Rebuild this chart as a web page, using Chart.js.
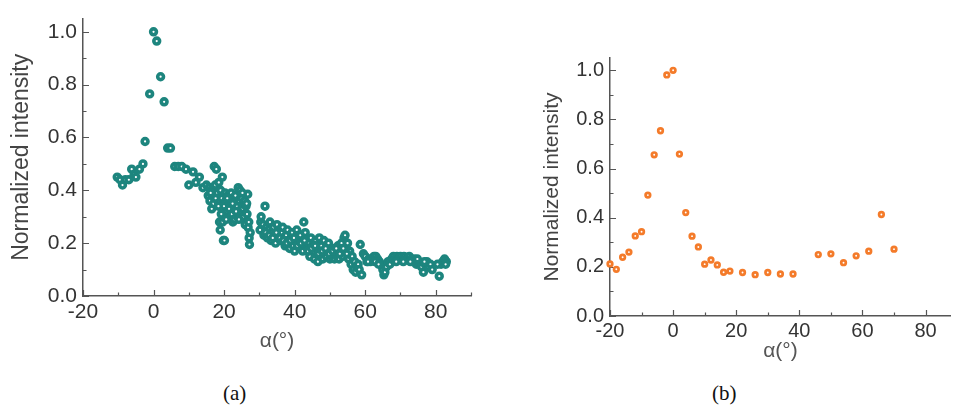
<!DOCTYPE html>
<html>
<head>
<meta charset="utf-8">
<script src="https://cdn.jsdelivr.net/npm/chart.js@4.4.1/dist/chart.umd.min.js"></script>
<style>
  html, body { margin: 0; padding: 0; background: #fff; }
  body { width: 955px; height: 406px; position: relative; overflow: hidden; }
  canvas { position: absolute; top: 0; }
  #chart_a { left: 0; }
  #chart_b { left: 540px; }
  .caption { position: absolute; top: 381px; font: 21px "Liberation Serif", "Times New Roman", serif; color: #111; }
</style>
</head>
<body>
<canvas id="chart_a" width="480" height="360"></canvas>
<canvas id="chart_b" width="420" height="372"></canvas>
<div class="caption" style="left:223px">(a)</div>
<div class="caption" style="left:712px">(b)</div>
<script>
// panel (a): alpha (deg), normalized intensity
const pointsA = [
  [-10.3, 0.45], [-9.5, 0.44], [-8.8, 0.42], [-8, 0.44], [-7, 0.44], [-6.2, 0.48], [-5.5, 0.46],
  [-5, 0.45], [-4, 0.48], [-3, 0.50], [-2.4, 0.585], [-1.1, 0.765], [0, 1.0], [0.9, 0.965],
  [2, 0.83], [3, 0.735], [4, 0.56], [4.8, 0.56], [6, 0.49], [7, 0.49], [8, 0.49], [9.2, 0.48],
  [10, 0.42], [11.2, 0.47], [12, 0.43], [13, 0.45], [14, 0.41], [15, 0.42],
  [15.5, 0.38], [15.8, 0.41], [16, 0.36], [16.3, 0.40], [16.5, 0.33], [16.8, 0.38], [17, 0.35],
  [17.2, 0.49], [17.5, 0.42], [17.8, 0.48], [18, 0.39], [18.2, 0.36], [18.5, 0.43], [18.7, 0.28],
  [18.9, 0.25], [19, 0.40], [19.3, 0.37], [19.5, 0.45], [19.6, 0.28], [19.8, 0.21], [20.1, 0.21],
  [20, 0.34], [20.3, 0.39], [20.5, 0.36], [20.8, 0.32], [21, 0.38], [21.2, 0.30], [21.5, 0.35],
  [21.8, 0.33], [22, 0.39], [22.2, 0.31], [22.5, 0.28], [22.8, 0.36], [23, 0.29], [23.2, 0.38],
  [23.5, 0.34], [23.8, 0.30], [24, 0.41], [24.3, 0.36], [24.5, 0.40], [24.8, 0.32], [25, 0.37],
  [25.3, 0.33], [25.5, 0.30], [25.8, 0.36], [26, 0.27], [26.2, 0.34], [26.5, 0.31], [26.7, 0.385],
  [26.8, 0.26], [27, 0.28], [27.1, 0.22], [27.2, 0.195], [27.4, 0.24],
  [17.6, 0.37], [18.4, 0.34], [19.2, 0.31], [20.6, 0.29], [21.4, 0.33], [22.4, 0.35],
  [23.4, 0.32], [24.2, 0.29], [25.2, 0.39], [26.4, 0.35], [16.2, 0.39], [20.9, 0.37],
  [30.2, 0.25], [30.4, 0.28], [30.5, 0.30], [31, 0.27], [31.3, 0.23], [31.6, 0.34], [32, 0.26],
  [32.3, 0.22], [32.6, 0.25], [33, 0.28], [33.3, 0.21], [33.6, 0.24], [34, 0.26], [34.3, 0.22],
  [34.6, 0.20], [35, 0.27], [35.3, 0.23], [35.6, 0.25], [36, 0.21], [36.3, 0.24], [36.6, 0.26],
  [37, 0.22], [37.3, 0.19], [37.6, 0.23], [38, 0.25], [38.3, 0.21], [38.6, 0.18], [39, 0.22],
  [39.3, 0.24], [39.6, 0.19], [40, 0.17], [40.3, 0.21], [40.6, 0.25], [41, 0.22], [41.3, 0.19],
  [41.6, 0.23], [42, 0.20], [42.3, 0.17], [42.6, 0.28], [43, 0.24], [43.3, 0.21], [43.6, 0.18],
  [44, 0.20], [44.3, 0.15], [44.6, 0.22], [45, 0.19], [45.3, 0.17], [45.6, 0.14], [46, 0.21],
  [46.3, 0.18], [46.6, 0.13], [47, 0.22], [47.3, 0.16], [47.6, 0.19], [48, 0.14], [48.3, 0.21],
  [48.6, 0.17], [49, 0.15], [49.3, 0.19], [49.6, 0.20], [50, 0.14], [50.3, 0.17], [50.6, 0.15],
  [51, 0.18], [51.3, 0.14], [51.6, 0.16], [52, 0.15], [52.3, 0.19], [52.6, 0.14], [53, 0.17],
  [53.3, 0.20], [53.6, 0.15], [54, 0.22], [54.3, 0.23], [54.6, 0.18], [55, 0.20], [55.3, 0.14],
  [55.6, 0.17], [56, 0.12], [56.3, 0.15], [56.6, 0.10], [57, 0.13], [57.3, 0.09], [57.6, 0.11],
  [58, 0.12], [58.3, 0.10], [58.6, 0.195], [59, 0.08],
  [31.8, 0.24], [32.8, 0.23], [33.8, 0.22], [34.8, 0.24], [35.8, 0.22], [36.8, 0.21],
  [37.8, 0.20], [38.8, 0.21], [39.8, 0.22], [40.8, 0.19], [41.8, 0.20], [42.8, 0.21],
  [43.8, 0.17], [44.8, 0.18], [45.8, 0.19], [46.8, 0.16], [47.8, 0.17], [48.8, 0.18],
  [49.8, 0.16], [50.8, 0.17], [51.8, 0.18], [52.8, 0.16], [53.8, 0.18], [54.8, 0.16],
  [59.5, 0.16], [60, 0.15], [60.5, 0.13], [61, 0.14], [61.5, 0.13], [62, 0.14], [62.5, 0.15],
  [63, 0.15], [63.5, 0.14], [64, 0.13], [64.5, 0.12], [65, 0.10], [65.3, 0.08], [65.6, 0.09],
  [66, 0.11], [66.5, 0.13], [67, 0.12], [67.5, 0.14], [68, 0.15], [68.5, 0.14], [69, 0.15],
  [69.5, 0.14], [70, 0.15], [70.5, 0.14], [71, 0.15], [71.5, 0.14], [72, 0.14], [72.5, 0.15],
  [73, 0.14], [73.5, 0.13], [74, 0.14], [74.5, 0.12], [75, 0.13], [75.5, 0.12], [76, 0.11],
  [76.5, 0.09], [77, 0.12], [77.5, 0.13], [78, 0.11], [78.5, 0.12], [79, 0.10], [81, 0.075],
  [81.5, 0.12], [82, 0.13], [82.5, 0.14], [83, 0.13],
  [60.8, 0.13], [62.8, 0.13], [63.8, 0.12], [68.8, 0.13], [70.8, 0.13], [72.8, 0.13],
  [74.8, 0.14], [76.8, 0.13], [80.5, 0.12], [82.8, 0.12]
];

// panel (b)
const alphaB = [-20, -18, -16, -14, -12, -10, -8, -6, -4, -2, 0, 2, 4, 6, 8, 10, 12, 14, 16, 18,
  22, 26, 30, 34, 38, 46, 50, 54, 58, 62, 66, 70];
const intensityB = [0.212, 0.19, 0.239, 0.26, 0.326, 0.343, 0.492, 0.656, 0.754, 0.981, 1.0, 0.659,
  0.421, 0.325, 0.281, 0.211, 0.228, 0.208, 0.178, 0.183, 0.177, 0.168, 0.177, 0.171, 0.171,
  0.25, 0.253, 0.217, 0.245, 0.264, 0.413, 0.272];

const xTickValues = [-20, -10, 0, 10, 20, 30, 40, 50, 60, 70, 80, 90];
const yTickValues = [0, 0.1, 0.2, 0.3, 0.4, 0.5, 0.6, 0.7, 0.8, 0.9, 1.0];

const TEAL = "#1d857e";
const ORANGE = "#f47b2a";
const AXIS = "#555";
const TEXT = "#333";
const FONT = "'Liberation Sans', Arial, sans-serif";

// small inward tick marks like the original plot
const innerTicks = {
  id: "innerTicks",
  beforeDatasetsDraw(chart) {
    const { ctx, chartArea, scales: { x, y } } = chart;
    ctx.save();
    ctx.strokeStyle = AXIS;
    ctx.lineWidth = 1.2;
    ctx.beginPath();
    xTickValues.forEach(v => {
      const px = Math.round(x.getPixelForValue(v)) + 0.5;
      const len = v % 20 === 0 ? 6 : 3.5;
      ctx.moveTo(px, chartArea.bottom);
      ctx.lineTo(px, chartArea.bottom - len);
    });
    yTickValues.forEach(v => {
      const py = Math.round(y.getPixelForValue(v)) + 0.5;
      const len = Math.round(v * 10) % 2 === 0 ? 6 : 3.5;
      ctx.moveTo(chartArea.left, py);
      ctx.lineTo(chartArea.left + len, py);
    });
    ctx.stroke();
    ctx.restore();
  }
};

function buildOptions(cfg) {
  return {
    responsive: false,
    animation: false,
    layout: { padding: { left: 0, top: cfg.top, right: cfg.right, bottom: 0 } },
    plugins: { legend: { display: false }, tooltip: { enabled: false } },
    scales: {
      x: {
        type: "linear",
        min: -20,
        max: cfg.xMax,
        grid: { display: false, drawTicks: false },
        border: { display: true, color: AXIS, width: 1.5 },
        afterBuildTicks: s => { s.ticks = xTickValues.map(v => ({ value: v })); },
        afterFit: s => { s.height = cfg.xHeight; },
        ticks: {
          padding: cfg.xPad,
          color: TEXT,
          font: { family: FONT, size: cfg.tickSize },
          maxRotation: 0,
          autoSkip: false,
          callback: v => (v % 20 === 0 && v <= 80 ? String(v) : "")
        },
        title: {
          display: true,
          text: "α(°)",
          color: "#555",
          padding: { top: 0, bottom: cfg.xTitlePad },
          font: { family: FONT, size: 21 }
        }
      },
      y: {
        min: 0,
        max: 1.05,
        grid: { display: false, drawTicks: false },
        border: { display: true, color: AXIS, width: 1.5 },
        afterBuildTicks: s => { s.ticks = yTickValues.map(v => ({ value: v })); },
        afterFit: s => { s.width = cfg.yWidth; },
        ticks: {
          padding: 6,
          color: TEXT,
          font: { family: FONT, size: cfg.tickSize },
          autoSkip: false,
          callback: v => (Math.round(v * 10) % 2 === 0 ? v.toFixed(1) : "")
        },
        title: {
          display: true,
          text: "Normalized intensity",
          color: "#444",
          padding: { top: cfg.yTitlePad, bottom: 0 },
          font: { family: FONT, size: cfg.yTitleSize }
        }
      }
    }
  };
}

new Chart(document.getElementById("chart_a"), {
  type: "scatter",
  data: {
    datasets: [{
      data: pointsA.map(([x, y]) => ({ x, y })),
      pointRadius: 2.9,
      pointBorderWidth: 3.6,
      pointBackgroundColor: "#fff",
      pointBorderColor: TEAL,
      clip: false
    }]
  },
  options: buildOptions({
    top: 12, right: 9, xMax: 90, xHeight: 64, yWidth: 83,
    xPad: 4, xTitlePad: 6, yTitlePad: 8, yTitleSize: 23, tickSize: 21
  }),
  plugins: [innerTicks]
});

new Chart(document.getElementById("chart_b"), {
  type: "scatter",
  data: {
    datasets: [{
      data: alphaB.map((x, i) => ({ x, y: intensityB[i] })),
      pointRadius: 2.3,
      pointBorderWidth: 2.7,
      pointBackgroundColor: "#fff",
      pointBorderColor: ORANGE,
      clip: false
    }]
  },
  options: buildOptions({
    top: 58, right: 6, xMax: 88, xHeight: 56, yWidth: 70,
    xPad: 3, xTitlePad: 8, yTitlePad: 0, yTitleSize: 21, tickSize: 20
  }),
  plugins: [innerTicks]
});
</script>
</body>
</html>
